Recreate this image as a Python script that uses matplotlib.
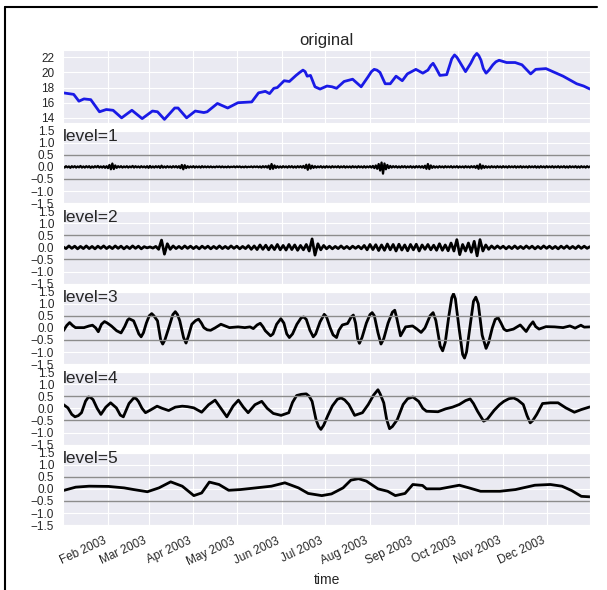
import matplotlib
matplotlib.use('Agg')
import matplotlib.pyplot as plt
import matplotlib.dates as mdates
from matplotlib.lines import Line2D
import numpy as np
import pandas as pd
import seaborn as sns

# day offsets from 2003-01-01 and values
orig_days = [0, 7.3, 10.9, 14.4, 19.1, 25.1, 29.8, 34.5, 40.4, 47.5, 54.6, 61.7, 65.2, 70.0,
             77.1, 79.4, 85.3, 91.3, 97.2, 99.5, 106.6, 113.7, 120.8, 130.3, 135.0, 139.7,
             142.6, 145.6, 148.0, 152.7, 156.3, 160.9, 163.5, 165.7, 167.2, 168.6, 170.9, 174.0, 177.5,
             182.3, 185.8, 188.9, 194.1, 200.0, 205.9, 210.6, 213.0, 214.9, 216.8, 218.9, 222.5, 226.0,
             230.0, 234.3, 237.8, 243.7, 248.5, 252.0, 254.0, 255.6, 257.5, 260.3, 265.0, 268.5,
             270.4, 272.0, 273.3, 278.0, 281.6, 284.0, 285.8, 287.2, 288.7, 290.3, 292.2, 294.2,
             296.9, 299.0, 301.2, 306.4, 312.3, 317.0, 323.0,
             326.5, 333.6, 338.3, 345.4, 350.1, 354.8, 359.6, 364]
orig_vals = [17.3, 17.1, 16.2, 16.5, 16.4, 14.8, 15.1, 15.0, 14.0, 15.0, 13.9, 14.9, 14.8, 13.8,
             15.3, 15.3, 14.0, 14.9, 14.7, 14.8, 15.9, 15.3, 16.0, 16.1, 17.3, 17.5,
             17.2, 17.9, 18.0, 18.9, 18.8, 19.6, 20.0, 20.3, 20.1, 19.5, 19.6, 18.1, 17.8,
             18.2, 18.1, 17.9, 18.8, 19.1, 18.1, 19.4, 20.1, 20.4, 20.3, 20.0, 18.5, 18.5,
             19.5, 18.9, 19.8, 20.4, 19.9, 20.3, 20.9, 21.2, 20.6, 19.6, 19.7, 21.8,
             22.3, 22.0, 21.6, 20.1, 21.2, 22.1, 22.5, 22.2, 21.6, 20.5, 19.9, 20.3,
             21.0, 21.4, 21.6, 21.3, 21.3, 21.0, 19.8,
             20.4, 20.5, 20.1, 19.5, 19.0, 18.5, 18.2, 17.8]

level1_vals = [
    0.02, -0.03, 0.03, -0.02, 0.02, -0.04, 0.03, -0.02, 0.03, -0.03, 0.02, -0.02, 0.04, -0.03, 0.02, -0.03, 0.03, -0.02, 0.03, -0.04,
    0.02, -0.03, 0.03, -0.02, 0.04, -0.03, 0.02, -0.03, 0.03, -0.04, 0.03, -0.05, 0.08, -0.10, 0.14, -0.09, 0.06, -0.04, 0.03, -0.02,
    0.03, -0.03, 0.02, -0.02, 0.03, -0.03, 0.02, -0.02, 0.04, -0.03, 0.03, -0.02, 0.02, -0.03, 0.03, -0.02, 0.02, -0.03, 0.03, -0.04,
    0.04, -0.03, 0.02, -0.03, 0.03, -0.02, 0.03, -0.04, 0.05, -0.03, 0.02, -0.03, 0.03, -0.02, 0.02, -0.03, 0.03, -0.02, 0.03, -0.03,
    0.03, -0.05, 0.08, -0.10, 0.07, -0.05, 0.03, -0.03, 0.02, -0.02, 0.03, -0.03, 0.02, -0.02, 0.02, -0.03, 0.03, -0.02, 0.02, -0.02,
    0.02, -0.02, 0.02, -0.02, 0.01, -0.02, 0.02, -0.01, 0.02, -0.02, 0.02, -0.02, 0.01, -0.02, 0.02, -0.02, 0.01, -0.01, 0.02, -0.02,
    0.02, -0.01, 0.02, -0.02, 0.01, -0.02, 0.02, -0.02, 0.01, -0.01, 0.02, -0.02, 0.02, -0.01, 0.02, -0.02, 0.02, -0.03, 0.03, -0.02,
    0.03, -0.03, 0.05, -0.09, 0.12, -0.08, 0.06, -0.04, 0.03, -0.03, 0.02, -0.03, 0.03, -0.02, 0.02, -0.03, 0.03, -0.02, 0.03, -0.03,
    0.02, -0.03, 0.03, -0.02, 0.03, -0.03, 0.04, -0.05, 0.09, -0.12, 0.10, -0.07, 0.05, -0.04, 0.03, -0.03, 0.02, -0.02, 0.03, -0.03,
    0.02, -0.03, 0.03, -0.02, 0.02, -0.03, 0.03, -0.02, 0.02, -0.02, 0.03, -0.03, 0.02, -0.02, 0.03, -0.03, 0.02, -0.02, 0.02, -0.03,
    0.03, -0.02, 0.02, -0.03, 0.03, -0.02, 0.02, -0.03, 0.03, -0.03, 0.02, -0.02, 0.03, -0.03, 0.04, -0.05, 0.06, -0.08, 0.12, -0.15,
    0.18, -0.28, 0.14, -0.10, 0.08, -0.05, 0.04, -0.03, 0.03, -0.02, 0.03, -0.03, 0.02, -0.03, 0.03, -0.02, 0.03, -0.03, 0.02, -0.02,
    0.03, -0.03, 0.02, -0.03, 0.03, -0.02, 0.03, -0.03, 0.03, -0.04, 0.05, -0.08, 0.12, -0.09, 0.06, -0.04, 0.03, -0.03, 0.02, -0.03,
    0.03, -0.02, 0.02, -0.03, 0.03, -0.02, 0.02, -0.02, 0.03, -0.03, 0.02, -0.02, 0.03, -0.03, 0.02, -0.02, 0.02, -0.03, 0.03, -0.02,
    0.02, -0.03, 0.03, -0.02, 0.03, -0.04, 0.05, -0.08, 0.11, -0.07, 0.05, -0.04, 0.03, -0.03, 0.02, -0.03, 0.03, -0.02, 0.02, -0.03,
    0.03, -0.02, 0.02, -0.03, 0.03, -0.02, 0.02, -0.03, 0.03, -0.02, 0.02, -0.02, 0.03, -0.03, 0.02, -0.02, 0.03, -0.03, 0.02, -0.02,
    0.02, -0.03, 0.03, -0.02, 0.02, -0.02, 0.03, -0.03, 0.02, -0.03, 0.03, -0.02, 0.02, -0.03, 0.03, -0.02, 0.02, -0.02, 0.03, -0.03,
    0.02, -0.02, 0.03, -0.03, 0.02, -0.02, 0.03, -0.03, 0.02, -0.03, 0.03, -0.02, 0.02, -0.02, 0.03, -0.03, 0.02, -0.03, 0.03, -0.02,
    0.02, -0.03, 0.03, -0.02, 0.02]
level1_days = np.arange(len(level1_vals))

level2_vals = [
    0.02, -0.05, 0.06, -0.04, 0.05, -0.06, 0.04, -0.05, 0.06, -0.05, 0.04, -0.06, 0.05, -0.04, 0.06, -0.05, 0.04, -0.05, 0.06, -0.04,
    0.05, -0.06, 0.04, -0.05, 0.06, -0.04, 0.05, -0.06, 0.03, -0.02, 0.02, -0.03, 0.04, -0.08, 0.30, -0.28, 0.15, -0.08, 0.06, -0.05,
    0.04, -0.05, 0.06, -0.04, 0.05, -0.05, 0.04, -0.06, 0.05, -0.04, 0.05, -0.06, 0.04, -0.05, 0.06, -0.05, 0.04, -0.05, 0.06, -0.04,
    0.05, -0.06, 0.04, -0.05, 0.07, -0.08, 0.06, -0.09, 0.10, -0.08, 0.09, -0.10, 0.08, -0.09, 0.12, -0.10, 0.08, -0.11, 0.12, -0.09,
    0.10, -0.12, 0.08, -0.10, 0.12, -0.15, 0.35, -0.32, 0.15, -0.10, 0.08, -0.06, 0.05, -0.06, 0.04, -0.05, 0.06, -0.05, 0.04, -0.06,
    0.05, -0.04, 0.05, -0.06, 0.08, -0.10, 0.12, -0.09, 0.11, -0.13, 0.10, -0.12, 0.14, -0.10, 0.12, -0.15, 0.13, -0.11, 0.10, -0.14,
    0.12, -0.10, 0.13, -0.15, 0.10, -0.08, 0.12, -0.10, 0.09, -0.12, 0.15, -0.12, 0.10, -0.14, 0.18, -0.15, 0.32, -0.30, 0.12, -0.15,
    0.18, -0.20, 0.25, -0.35, 0.32, -0.15, 0.10, -0.08, 0.06, -0.05, 0.06, -0.04, 0.05, -0.06, 0.04, -0.05, 0.06, -0.05, 0.04, -0.05,
    0.06, -0.04, 0.05, -0.06, 0.04, -0.05, 0.06, -0.04, 0.05, -0.05, 0.04, -0.06, 0.05, -0.04, 0.06, -0.05, 0.04, -0.05, 0.06, -0.04,
    0.05, -0.04, 0.03]
level2_days = np.arange(len(level2_vals)) * 2

level3_days = [0.2, 2.5, 4.5, 6.5, 8.5, 14.4, 18, 20.3, 22.5, 24.3, 26.5, 28.6, 30.5, 33.3, 37, 40.0,
               42.5, 44.5, 45.6, 48.7, 50, 52.3, 53.9, 55.5, 57.5, 59.5, 61.2, 62.7, 65.2, 67.4,
               68.8, 70.3, 73, 75.8, 77.5, 79, 80.6, 83.2, 84.9, 86.5, 88.9, 91.5, 93.6, 95.5,
               97.2, 99.5, 101.9, 105, 109.0, 112, 114.9, 120.8, 125.5, 129.1, 131.4, 134,
               136.2, 138, 139.7, 143.3, 145, 147.5, 150.4, 152.5, 154.5, 156.3, 158.5, 161.5,
               164.5, 166.2, 168, 170.5, 172.8, 174.5, 177.5, 180.4, 182, 184.5, 186.5, 188.9,
               190.5, 192.9, 196.5, 199, 200.5, 202, 203.5, 204.7, 206.5, 209.5, 212, 213.5,
               215, 217.5, 219.6, 221.5, 224.5, 227.5, 229.1, 230.5, 233.1, 236.6, 241.4,
               244.5, 247.3, 250, 253.5, 255.6, 257.5, 260.5, 262.2, 264, 266.5, 268.5, 269.7,
               271, 273.5, 276, 277.3, 278.7, 281, 283.5, 285.1, 286.8, 289.5, 292.2, 294,
               296.5, 298.5, 300.5, 302.5, 304.5, 306.4, 311.1, 315.8, 319.9, 322.5, 324.6,
               326.5, 328.8, 333.6, 339.5, 345.4, 350.1, 353.7, 357.7, 360, 364]
level3_vals = [-0.12, 0.10, 0.22, 0.10, 0.01, 0.01, 0.08, 0.11, 0.0, -0.16, 0.15, 0.26, 0.20, 0.08, -0.12, -0.21,
               0.05, 0.32, 0.38, 0.29, 0.10, -0.25, -0.37, -0.20, 0.20, 0.50, 0.59, 0.50, 0.29, -0.50,
               -0.67, -0.50, 0.0, 0.55, 0.67, 0.55, 0.29, -0.40, -0.63, -0.35, 0.15, 0.30, 0.36, 0.20,
               0.01, -0.08, -0.10, 0.0, 0.15, 0.08, 0.01, 0.04, 0.01, 0.04, -0.03, 0.12,
               0.19, 0.05, -0.12, -0.33, -0.25, 0.15, 0.38, 0.20, -0.25, -0.40, -0.25, 0.15,
               0.42, 0.45, 0.35, -0.10, -0.37, -0.25, 0.25, 0.56, 0.45, 0.0, -0.29, -0.40,
               -0.10, 0.12, 0.18, 0.45, 0.53, 0.20, -0.45, -0.64, -0.40, 0.20, 0.55, 0.63,
               0.50, -0.20, -0.67, -0.45, 0.20, 0.65, 0.73, 0.40, -0.33, 0.04, 0.08,
               -0.05, -0.19, 0.0, 0.50, 0.63, 0.30, -0.75, -0.95, -0.60, 0.50, 1.25, 1.41,
               1.20, 0.0, -1.10, -1.25, -1.00, 0.0, 1.10, 1.27, 1.00, -0.30, -0.85, -0.60,
               0.0, 0.35, 0.42, 0.20, -0.05, -0.12, -0.05, 0.12, -0.15, 0.10, 0.25,
               0.05, -0.05, 0.05, 0.04, 0.01, 0.08, -0.01, 0.11, 0.03, 0.04]

level4_days = [0.1, 3.3, 6, 8.2, 10.5, 12.7, 15.5, 17.5, 19, 20.7, 23.5, 26.1, 29.5, 32.8, 36.8,
               39.5, 41.6, 45.5, 48.8, 50.5, 52.0, 54.5, 56.9, 60, 64.9, 68.5, 72.9, 77.5, 82.3,
               86, 90.3, 95.7, 100.5, 105.0, 109, 113.1, 117.5, 121.1, 124.5, 127.8, 132.5,
               137.2, 141, 145.2, 150.6, 155.9, 158.5, 161.3, 164.5, 168.0, 170, 172.0, 174.7,
               176.5, 178.1, 180, 182.7, 186, 189.5, 192.1, 194.5, 197.4, 201.4, 206.8, 210.8,
               214.5, 217.5, 219, 221.5, 223.5, 225.5, 227.5, 230.9, 234.9, 238, 241.6, 245.6,
               248.5, 251.0, 259.0, 264.3, 269, 273.7, 278, 281.2, 283.5, 286.3, 290.5, 293,
               297.8, 301.5, 304.5, 308, 311.2, 314, 317.9, 320.5, 322.7, 324.5, 327.2, 331.2,
               336.6, 341.9, 347.3, 353.2, 358.0, 363.9]
level4_vals = [0.16, 0.02, -0.25, -0.35, -0.30, -0.18, 0.30, 0.47, 0.45, 0.36, 0.0, -0.25, 0.05, 0.23, 0.02,
               -0.28, -0.35, 0.20, 0.43, 0.40, 0.29, 0.0, -0.18, -0.08, 0.09, 0.0, -0.09, 0.05, 0.09,
               0.07, 0.02, -0.16, 0.15, 0.34, 0.0, -0.35, 0.10, 0.34, 0.05, -0.18, 0.15,
               0.29, 0.0, -0.21, -0.29, -0.18, 0.25, 0.53, 0.58, 0.60, 0.50, 0.29, -0.46,
               -0.75, -0.87, -0.70, -0.32, 0.10, 0.38, 0.43, 0.35, 0.16, -0.29, -0.18, 0.16,
               0.55, 0.77, 0.60, 0.23, -0.45, -0.84, -0.75, -0.46, 0.16, 0.40, 0.47, 0.29,
               0.0, -0.12, -0.14, -0.02, 0.05, 0.16, 0.32, 0.39, 0.20, -0.12, -0.53, -0.45,
               -0.08, 0.15, 0.29, 0.40, 0.43, 0.35, 0.16, -0.30, -0.60, -0.50, -0.25, 0.20,
               0.23, 0.23, 0.02, -0.16, -0.05, 0.06]

level5_days = [0.1, 8.7, 18.0, 31.4, 42.1, 48.8, 58.2, 66.2, 74.3, 82.3, 90.3, 95.7, 101.0, 107.7,
               114.4, 122.4, 133.2, 143.9, 153.2, 162.6, 169.3, 178.7, 185.4, 193.4, 198.8,
               204.1, 209.5, 217.5, 224.2, 229.5, 236.2, 241.6, 248.3, 251.0, 260.3, 273.7,
               280.4, 288.4, 301.8, 312.5, 325.9, 336.6, 344.6, 351.3, 358.0, 363.9]
level5_vals = [-0.07, 0.07, 0.11, 0.10, 0.04, -0.03, -0.12, 0.04, 0.29, 0.11, -0.28, -0.17, 0.28, 0.18,
               -0.06, -0.03, 0.04, 0.11, 0.25, 0.04, -0.19, -0.28, -0.21, 0.04, 0.36,
               0.42, 0.32, 0.0, -0.10, -0.28, -0.19, 0.18, 0.14, 0.0, 0.0, 0.15,
               0.04, -0.10, -0.10, -0.03, 0.15, 0.18, 0.11, -0.07, -0.31, -0.33]

levels = [(level1_days, level1_vals), (level2_days, level2_vals), (level3_days, level3_vals),
          (level4_days, level4_vals), (level5_days, level5_vals)]

start = pd.Timestamp('2003-01-01')


def to_dates(days):
    return start + pd.to_timedelta(np.asarray(days, dtype=float), unit='D')


sns.set_style('darkgrid')
plt.rcParams['font.family'] = ['Liberation Sans', 'DejaVu Sans']

fig, axes = plt.subplots(6, 1, sharex=True, figsize=(6.07, 5.9), dpi=100)
fig.subplots_adjust(left=0.104, right=0.972, top=0.915, bottom=0.11, hspace=0.11)

ax = axes[0]
ax.plot(to_dates(orig_days), orig_vals, color='#1a1ae6', lw=2)
ax.set_title('original', fontsize=12, pad=4, color='0.15')
ax.set_yticks([14, 16, 18, 20, 22])

for i, (d, v) in enumerate(levels):
    ax = axes[i + 1]
    ax.plot(to_dates(d), v, color='k', lw=1.6 if i == 0 else 2)
    ax.axhline(0.5, color='0.55', lw=1)
    ax.axhline(-0.5, color='0.55', lw=1)
    ax.set_ylim(-1.5, 1.5)
    ax.set_yticks([-1.5, -1.0, -0.5, 0.0, 0.5, 1.0, 1.5])
    ax.text(0.0, 1.02, 'level=%d' % (i + 1), transform=ax.transAxes,
            ha='left', va='top', fontsize=12.5, color='0.15')

for ax in axes:
    ax.tick_params(axis='y', labelsize=8.5, pad=3)
    ax.set_xlim(start, pd.Timestamp('2003-12-31'))

axes[-1].xaxis.set_major_locator(mdates.MonthLocator(bymonth=range(2, 13)))
axes[-1].xaxis.set_major_formatter(mdates.DateFormatter('%b %Y'))
plt.setp(axes[-1].get_xticklabels(), rotation=25, ha='right', fontsize=8.5)
axes[-1].set_xlabel('time', fontsize=10, color='0.15')

# black frame of the screenshot
fig.add_artist(Line2D([5 / 607, 597 / 607], [1 - 7 / 590] * 2, transform=fig.transFigure, color='k', lw=1.5))
fig.add_artist(Line2D([5 / 607] * 2, [0, 1 - 7 / 590], transform=fig.transFigure, color='k', lw=1.5))

fig.savefig('out.png', dpi=100)
